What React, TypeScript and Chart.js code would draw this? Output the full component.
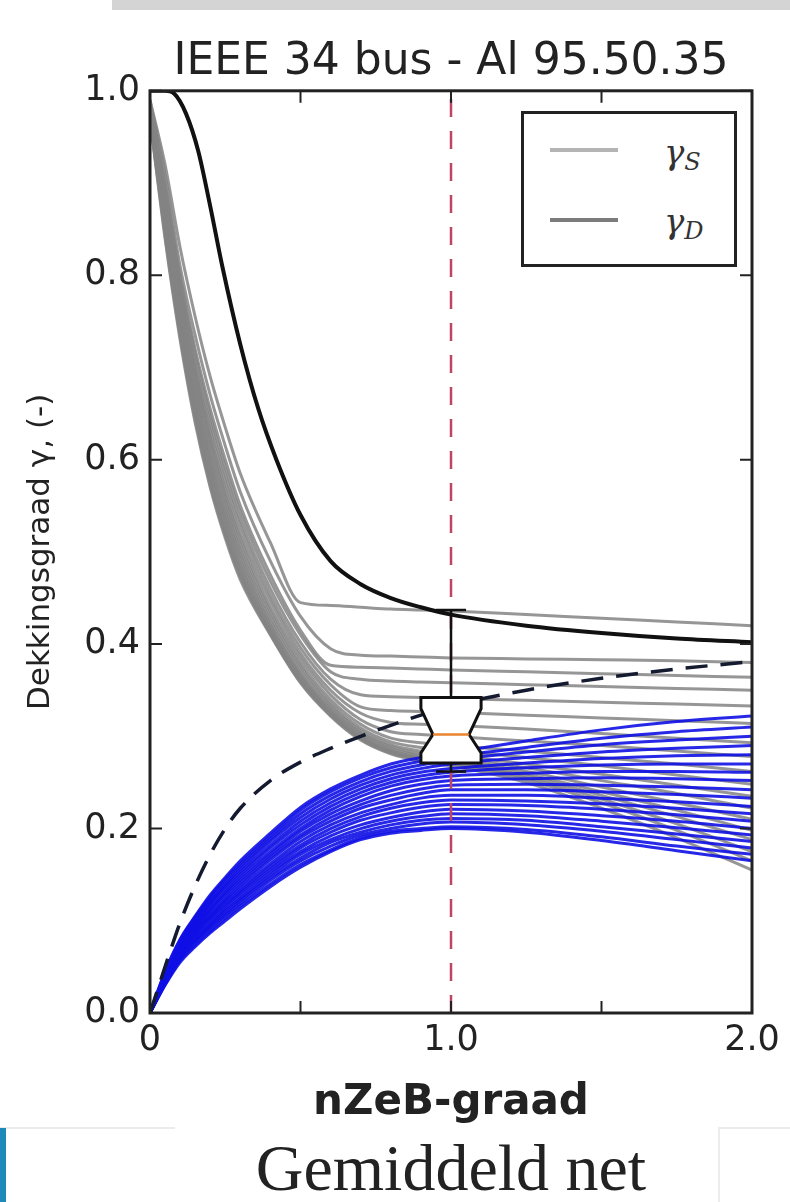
import React, { useEffect, useRef } from 'react';
import { Chart, registerables } from 'chart.js';

Chart.register(...registerables);

// ---------- data ----------
const X_GRID = [0, 0.05, 0.1, 0.15, 0.2, 0.25, 0.3, 0.4, 0.5, 0.6, 0.7, 0.8, 0.9, 1.0, 1.25, 1.5, 1.75, 2.0];

// gamma_S curves (grey), one row per bus, values on X_GRID
const gammaS: number[][] = [
  [0.99, 0.92, 0.83, 0.755, 0.69, 0.635, 0.585, 0.51, 0.445, 0.442, 0.44, 0.438, 0.437, 0.436, 0.432, 0.428, 0.424, 0.42],
  [0.99, 0.91, 0.81, 0.735, 0.67, 0.615, 0.565, 0.49, 0.43, 0.395, 0.388, 0.387, 0.386, 0.385, 0.384, 0.383, 0.382, 0.38],
  [0.985, 0.9, 0.8, 0.72, 0.655, 0.6, 0.55, 0.475, 0.415, 0.377, 0.375, 0.374, 0.373, 0.372, 0.37, 0.368, 0.366, 0.364],
  [0.985, 0.895, 0.795, 0.715, 0.648, 0.592, 0.543, 0.468, 0.41, 0.37, 0.362, 0.36, 0.359, 0.358, 0.356, 0.354, 0.352, 0.35],
  [0.98, 0.89, 0.79, 0.705, 0.64, 0.584, 0.535, 0.46, 0.402, 0.362, 0.345, 0.343, 0.342, 0.341, 0.339, 0.337, 0.335, 0.333],
  [0.98, 0.885, 0.785, 0.7, 0.632, 0.576, 0.528, 0.453, 0.396, 0.356, 0.332, 0.328, 0.327, 0.326, 0.323, 0.32, 0.317, 0.314],
  [0.98, 0.88, 0.78, 0.695, 0.625, 0.568, 0.52, 0.447, 0.39, 0.35, 0.325, 0.315, 0.313, 0.312, 0.308, 0.303, 0.298, 0.293],
  [0.98, 0.88, 0.775, 0.69, 0.62, 0.562, 0.514, 0.44, 0.385, 0.345, 0.318, 0.305, 0.302, 0.3, 0.295, 0.29, 0.284, 0.278],
  [0.978, 0.875, 0.77, 0.683, 0.613, 0.556, 0.508, 0.435, 0.38, 0.34, 0.313, 0.298, 0.293, 0.29, 0.284, 0.277, 0.27, 0.262],
  [0.978, 0.87, 0.765, 0.678, 0.607, 0.55, 0.502, 0.43, 0.376, 0.336, 0.309, 0.294, 0.288, 0.285, 0.277, 0.268, 0.258, 0.248],
  [0.976, 0.865, 0.76, 0.672, 0.601, 0.544, 0.497, 0.425, 0.372, 0.333, 0.306, 0.291, 0.284, 0.28, 0.27, 0.259, 0.247, 0.235],
  [0.975, 0.86, 0.755, 0.667, 0.596, 0.539, 0.492, 0.421, 0.368, 0.33, 0.304, 0.289, 0.281, 0.277, 0.266, 0.252, 0.238, 0.222],
  [0.974, 0.857, 0.75, 0.662, 0.591, 0.534, 0.487, 0.418, 0.366, 0.328, 0.302, 0.287, 0.279, 0.275, 0.262, 0.245, 0.228, 0.21],
  [0.973, 0.853, 0.746, 0.657, 0.586, 0.529, 0.483, 0.415, 0.364, 0.326, 0.3, 0.285, 0.277, 0.273, 0.259, 0.24, 0.22, 0.198],
  [0.972, 0.85, 0.742, 0.652, 0.581, 0.525, 0.479, 0.413, 0.362, 0.325, 0.299, 0.284, 0.276, 0.272, 0.257, 0.236, 0.213, 0.188],
  [0.971, 0.847, 0.738, 0.648, 0.577, 0.521, 0.476, 0.412, 0.36, 0.324, 0.298, 0.283, 0.275, 0.271, 0.255, 0.232, 0.205, 0.175],
  [0.97, 0.843, 0.734, 0.644, 0.573, 0.518, 0.473, 0.411, 0.359, 0.323, 0.297, 0.282, 0.274, 0.27, 0.253, 0.228, 0.198, 0.165],
  [0.97, 0.84, 0.73, 0.64, 0.57, 0.515, 0.47, 0.41, 0.358, 0.322, 0.296, 0.281, 0.273, 0.268, 0.25, 0.222, 0.19, 0.155],
];

// gamma_D curves (blue), one row per bus, values on X_GRID
const gammaD: number[][] = [
  [0, 0.045, 0.08, 0.105, 0.128, 0.147, 0.165, 0.195, 0.223, 0.243, 0.258, 0.27, 0.277, 0.282, 0.295, 0.307, 0.316, 0.322],
  [0, 0.044, 0.079, 0.104, 0.126, 0.145, 0.162, 0.192, 0.22, 0.24, 0.255, 0.266, 0.273, 0.278, 0.288, 0.298, 0.305, 0.31],
  [0, 0.043, 0.077, 0.102, 0.124, 0.142, 0.159, 0.189, 0.216, 0.236, 0.251, 0.262, 0.269, 0.274, 0.283, 0.291, 0.296, 0.3],
  [0, 0.042, 0.076, 0.1, 0.121, 0.139, 0.156, 0.186, 0.212, 0.232, 0.247, 0.258, 0.265, 0.27, 0.277, 0.283, 0.287, 0.29],
  [0, 0.041, 0.075, 0.098, 0.119, 0.137, 0.153, 0.182, 0.208, 0.228, 0.243, 0.254, 0.261, 0.265, 0.271, 0.276, 0.279, 0.28],
  [0, 0.04, 0.073, 0.096, 0.117, 0.134, 0.15, 0.179, 0.204, 0.224, 0.239, 0.25, 0.257, 0.261, 0.266, 0.269, 0.27, 0.27],
  [0, 0.04, 0.072, 0.094, 0.114, 0.131, 0.147, 0.175, 0.2, 0.22, 0.235, 0.246, 0.253, 0.257, 0.26, 0.262, 0.262, 0.261],
  [0, 0.039, 0.071, 0.093, 0.112, 0.129, 0.144, 0.172, 0.197, 0.216, 0.23, 0.241, 0.248, 0.252, 0.254, 0.255, 0.254, 0.252],
  [0, 0.038, 0.07, 0.091, 0.11, 0.126, 0.141, 0.169, 0.193, 0.212, 0.226, 0.236, 0.243, 0.247, 0.248, 0.247, 0.245, 0.242],
  [0, 0.037, 0.068, 0.089, 0.107, 0.123, 0.138, 0.166, 0.19, 0.208, 0.222, 0.231, 0.238, 0.242, 0.242, 0.24, 0.237, 0.233],
  [0, 0.037, 0.067, 0.088, 0.105, 0.121, 0.135, 0.162, 0.186, 0.204, 0.217, 0.226, 0.233, 0.236, 0.236, 0.233, 0.229, 0.224],
  [0, 0.036, 0.066, 0.086, 0.103, 0.118, 0.132, 0.159, 0.182, 0.2, 0.213, 0.222, 0.228, 0.231, 0.23, 0.227, 0.222, 0.216],
  [0, 0.035, 0.064, 0.084, 0.101, 0.116, 0.13, 0.156, 0.179, 0.196, 0.209, 0.217, 0.223, 0.226, 0.225, 0.221, 0.215, 0.208],
  [0, 0.034, 0.063, 0.082, 0.098, 0.113, 0.127, 0.153, 0.175, 0.192, 0.204, 0.212, 0.218, 0.221, 0.219, 0.214, 0.208, 0.2],
  [0, 0.034, 0.062, 0.08, 0.096, 0.111, 0.124, 0.15, 0.172, 0.188, 0.2, 0.208, 0.213, 0.216, 0.214, 0.208, 0.201, 0.193],
  [0, 0.033, 0.06, 0.078, 0.094, 0.108, 0.122, 0.147, 0.168, 0.185, 0.196, 0.204, 0.209, 0.211, 0.209, 0.202, 0.194, 0.186],
  [0, 0.032, 0.059, 0.077, 0.092, 0.106, 0.119, 0.144, 0.165, 0.181, 0.193, 0.2, 0.205, 0.207, 0.204, 0.197, 0.188, 0.179],
  [0, 0.031, 0.057, 0.074, 0.089, 0.103, 0.116, 0.14, 0.161, 0.177, 0.19, 0.197, 0.2, 0.202, 0.199, 0.191, 0.181, 0.172],
  [0, 0.03, 0.055, 0.072, 0.087, 0.1, 0.113, 0.137, 0.158, 0.175, 0.188, 0.195, 0.198, 0.2, 0.196, 0.187, 0.176, 0.165],
];

// aggregate gamma_S (black solid)
const aggSX = [0, 0.05, 0.08, 0.12, 0.16, 0.2, 0.24, 0.3, 0.36, 0.42, 0.5, 0.6, 0.7, 0.8, 0.9, 1.0, 1.25, 1.5, 1.75, 2.0];
const aggSY = [1.0, 1.0, 0.997, 0.975, 0.935, 0.875, 0.81, 0.725, 0.655, 0.6, 0.54, 0.49, 0.465, 0.45, 0.44, 0.432, 0.42, 0.412, 0.406, 0.402];

// aggregate gamma_D (black dashed)
const aggDX = [0, 0.03, 0.06, 0.1, 0.15, 0.2, 0.25, 0.3, 0.4, 0.5, 0.6, 0.7, 0.8, 0.9, 1.0, 1.25, 1.5, 1.75, 2.0];
const aggDY = [0, 0.03, 0.06, 0.098, 0.138, 0.172, 0.2, 0.222, 0.252, 0.272, 0.287, 0.3, 0.312, 0.323, 0.333, 0.35, 0.363, 0.373, 0.381];

// reference nZeB-graad (red dashed vertical)
const refLineX = [1.0, 1.0];
const refLineY = [0, 1];

// box plot at nZeB-graad 1.0
const boxPosition = [1.0];
const boxQuartiles = [0.271, 0.302, 0.342]; // q1, median, q3
const boxNotch = [0.282, 0.33];
const boxWhiskers = [0.262, 0.437];

// tick labels
const xTickValues = [0, 0.5, 1.0, 1.5, 2.0];
const xTickLabels = ['0', '', '1.0', '', '2.0'];
const yTickValues = [0, 0.2, 0.4, 0.6, 0.8, 1.0];
const yTickLabels = ['0.0', '0.2', '0.4', '0.6', '0.8', '1.0'];

const toPts = (xs: number[], ys: number[]) => xs.map((x, i) => ({ x, y: ys[i] }));

const framePlugin = {
  id: 'frameAndBox',
  afterDatasetsDraw(chart: any) {
    const { ctx, chartArea: a } = chart;
    const xs = chart.scales.x;
    const ys = chart.scales.y;
    const px = (v: number) => xs.getPixelForValue(v);
    const py = (v: number) => ys.getPixelForValue(v);
    ctx.save();
    // box plot
    const c = boxPosition[0];
    const w = 0.1;
    const wn = 0.06;
    const cap = 0.05;
    const [q1, med, q3] = boxQuartiles;
    const [nLo, nHi] = boxNotch;
    const [wLo, wHi] = boxWhiskers;
    ctx.strokeStyle = '#111';
    ctx.lineWidth = 2.5;
    ctx.setLineDash([]);
    ctx.beginPath();
    ctx.moveTo(px(c), py(q3));
    ctx.lineTo(px(c), py(wHi));
    ctx.moveTo(px(c - cap), py(wHi));
    ctx.lineTo(px(c + cap), py(wHi));
    ctx.moveTo(px(c), py(q1));
    ctx.lineTo(px(c), py(wLo));
    ctx.moveTo(px(c - cap), py(wLo));
    ctx.lineTo(px(c + cap), py(wLo));
    ctx.stroke();
    ctx.beginPath();
    ctx.moveTo(px(c - w), py(q1));
    ctx.lineTo(px(c + w), py(q1));
    ctx.lineTo(px(c + w), py(nLo));
    ctx.lineTo(px(c + wn), py(med));
    ctx.lineTo(px(c + w), py(nHi));
    ctx.lineTo(px(c + w), py(q3));
    ctx.lineTo(px(c - w), py(q3));
    ctx.lineTo(px(c - w), py(nHi));
    ctx.lineTo(px(c - wn), py(med));
    ctx.lineTo(px(c - w), py(nLo));
    ctx.closePath();
    ctx.fillStyle = '#ffffff';
    ctx.fill();
    ctx.lineWidth = 3;
    ctx.stroke();
    ctx.beginPath();
    ctx.strokeStyle = '#e8852e';
    ctx.lineWidth = 2.5;
    ctx.moveTo(px(c - wn), py(med));
    ctx.lineTo(px(c + wn), py(med));
    ctx.stroke();
    // frame
    ctx.strokeStyle = '#222';
    ctx.lineWidth = 3;
    ctx.strokeRect(a.left, a.top, a.right - a.left, a.bottom - a.top);
    // inward ticks on all four sides
    ctx.lineWidth = 2;
    const tl = 12;
    ctx.beginPath();
    xTickValues.forEach((v) => {
      const x = px(v);
      ctx.moveTo(x, a.bottom);
      ctx.lineTo(x, a.bottom - tl);
      ctx.moveTo(x, a.top);
      ctx.lineTo(x, a.top + tl);
    });
    yTickValues.forEach((v) => {
      const y = py(v);
      ctx.moveTo(a.left, y);
      ctx.lineTo(a.left + tl, y);
      ctx.moveTo(a.right, y);
      ctx.lineTo(a.right - tl, y);
    });
    ctx.stroke();
    ctx.restore();
  },
};

export default function App() {
  const ref = useRef<HTMLCanvasElement | null>(null);

  useEffect(() => {
    if (!ref.current) return;
    const datasets: any[] = [];
    datasets.push({
      data: toPts(aggSX, aggSY),
      borderColor: '#111',
      borderWidth: 4,
      cubicInterpolationMode: 'monotone',
    });
    datasets.push({
      data: toPts(aggDX, aggDY),
      borderColor: '#141a30',
      borderWidth: 3.5,
      borderDash: [22, 13],
      cubicInterpolationMode: 'monotone',
    });
    datasets.push({
      data: toPts(refLineX, refLineY),
      borderColor: '#c04468',
      borderWidth: 2.5,
      borderDash: [18, 14],
    });
    gammaD.forEach((ys) =>
      datasets.push({
        data: toPts(X_GRID, ys),
        borderColor: 'rgba(15,15,230,0.9)',
        borderWidth: 3,
        cubicInterpolationMode: 'monotone',
      })
    );
    gammaS.forEach((ys) =>
      datasets.push({
        data: toPts(X_GRID, ys),
        borderColor: 'rgba(132,132,132,0.85)',
        borderWidth: 3,
        cubicInterpolationMode: 'monotone',
      })
    );

    const chart = new Chart(ref.current, {
      type: 'line',
      data: { datasets },
      options: {
        animation: false,
        responsive: false,
        devicePixelRatio: 1,
        layout: { padding: { left: 0, right: 38, top: 0, bottom: 0 } },
        elements: { point: { radius: 0, hoverRadius: 0 } },
        plugins: {
          legend: { display: false },
          tooltip: { enabled: false },
          title: {
            display: true,
            text: 'IEEE 34 bus - Al 95.50.35',
            fullSize: false,
            color: '#222',
            font: { family: 'DejaVu Sans', size: 44, weight: 'normal' },
            padding: { top: 36, bottom: 2 },
          },
        },
        scales: {
          x: {
            type: 'linear',
            min: 0,
            max: 2,
            afterFit: (s: any) => {
              s.height = 127;
            },
            afterBuildTicks: (s: any) => {
              s.ticks = xTickValues.map((v) => ({ value: v }));
            },
            ticks: {
              padding: 7,
              color: '#222',
              maxRotation: 0,
              autoSkip: false,
              font: { family: 'DejaVu Sans', size: 35 },
              callback: (v: any) => xTickLabels[xTickValues.indexOf(Number(v))] ?? '',
            },
            grid: { display: false, drawTicks: false },
            border: { display: false },
            title: {
              display: true,
              text: 'nZeB-graad',
              color: '#222',
              font: { family: 'DejaVu Sans', size: 42, weight: 'bold' },
              padding: { top: 0, bottom: 12 },
            },
          },
          y: {
            type: 'linear',
            min: 0,
            max: 1,
            afterFit: (s: any) => {
              s.width = 150;
            },
            afterBuildTicks: (s: any) => {
              s.ticks = yTickValues.map((v) => ({ value: v }));
            },
            ticks: {
              padding: 10,
              color: '#222',
              autoSkip: false,
              font: { family: 'DejaVu Sans', size: 35 },
              callback: (v: any) => yTickLabels[yTickValues.indexOf(Number(v))] ?? '',
            },
            grid: { display: false, drawTicks: false },
            border: { display: false },
            title: {
              display: true,
              text: 'Dekkingsgraad γ, (-)',
              color: '#222',
              font: { family: 'DejaVu Sans', size: 31 },
              padding: { top: 22, bottom: 0 },
            },
          },
        },
      } as any,
      plugins: [framePlugin],
    });
    return () => chart.destroy();
  }, []);

  const abs = (o: any) => ({ position: 'absolute' as const, ...o });

  return (
    <div style={abs({ left: 0, top: 0, width: 790, height: 1202, background: '#fff', overflow: 'hidden' })}>
      <div style={abs({ left: 112, top: 0, width: 678, height: 10, background: '#d4d4d4' })} />
      <canvas ref={ref} width={790} height={1140} style={abs({ left: 0, top: 0, width: 790, height: 1140 })} />
      {/* legend */}
      <div style={abs({ left: 521, top: 111, width: 210, height: 150, border: '3px solid #222', background: '#fff' })} />
      <div style={abs({ left: 550, top: 148, width: 68, height: 4, background: '#b4b4b4' })} />
      <div style={abs({ left: 550, top: 218, width: 68, height: 4, background: '#7c7c7c' })} />
      <div style={abs({ left: 664, top: 134, fontFamily: 'DejaVu Serif', fontStyle: 'italic', fontSize: 34, color: '#333', lineHeight: '36px' })}>
        γ<sub style={{ fontSize: 24, verticalAlign: '-0.25em' }}>S</sub>
      </div>
      <div style={abs({ left: 664, top: 203, fontFamily: 'DejaVu Serif', fontStyle: 'italic', fontSize: 34, color: '#333', lineHeight: '36px' })}>
        γ<sub style={{ fontSize: 24, verticalAlign: '-0.25em' }}>D</sub>
      </div>
      {/* bottom caption */}
      <div style={abs({ left: 0, top: 1127, width: 175, height: 2, background: '#ececec' })} />
      <div style={abs({ left: 718, top: 1127, width: 72, height: 2, background: '#ececec' })} />
      <div style={abs({ left: 718, top: 1127, width: 2, height: 75, background: '#ececec' })} />
      <div style={abs({ left: 0, top: 1128, width: 6, height: 74, background: '#1e8ab8' })} />
      <div
        style={abs({
          left: 150,
          top: 1135,
          width: 602,
          textAlign: 'center',
          fontFamily: "'Liberation Serif', 'DejaVu Serif', serif",
          fontSize: 66,
          lineHeight: '66px',
          color: '#222',
        })}
      >
        Gemiddeld net
      </div>
    </div>
  );
}
